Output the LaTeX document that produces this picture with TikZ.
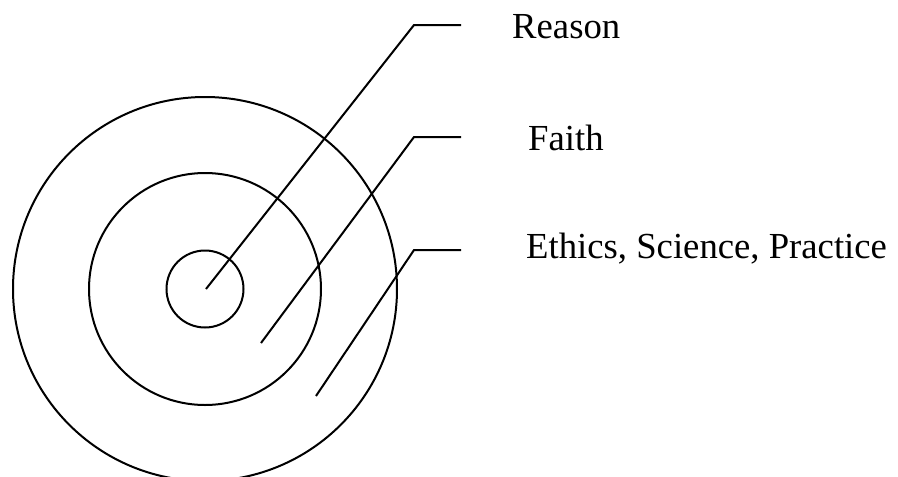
\documentclass[tikz,border=0pt]{standalone}
\usepackage{fontspec}
\setmainfont{Liberation Serif}
\begin{document}
\begin{tikzpicture}[x=1pt,y=-1pt,
  ring/.style={draw=black, line width=2pt, circle, inner sep=0pt},
  leader/.style={draw=black, line width=2pt},
  lbl/.style={anchor=base west, inner sep=0pt, font=\fontsize{36.7}{40}\selectfont}]
\useasboundingbox (0,0) rectangle (898,477);
\clip (0,0) rectangle (898,477);
\coordinate (c) at (205,289);
\node[ring, minimum size=384pt] (outer) at (c) {};
\node[ring, minimum size=232pt] (middle) at (c) {};
\node[ring, minimum size=77pt] (inner) at (c) {};
% leaders
\coordinate (r0) at (206,289);
\coordinate (r1) at (414,25);
\coordinate (r2) at (461,25);
\coordinate (f0) at (261,343);
\coordinate (f1) at (414,137);
\coordinate (f2) at (461,137);
\coordinate (e0) at (316,396);
\coordinate (e1) at (414,250);
\coordinate (e2) at (461,250);
\draw[leader] (r0) -- (r1) -- (r2);
\draw[leader] (f0) -- (f1) -- (f2);
\draw[leader] (e0) -- (e1) -- (e2);
\node[lbl] (reason) at (512,38) {Reason};
\node[lbl] (faith) at (528,150) {Faith};
\node[lbl] (ethics) at (526,258) {Ethics, Science, Practice};
\end{tikzpicture}
\end{document}
